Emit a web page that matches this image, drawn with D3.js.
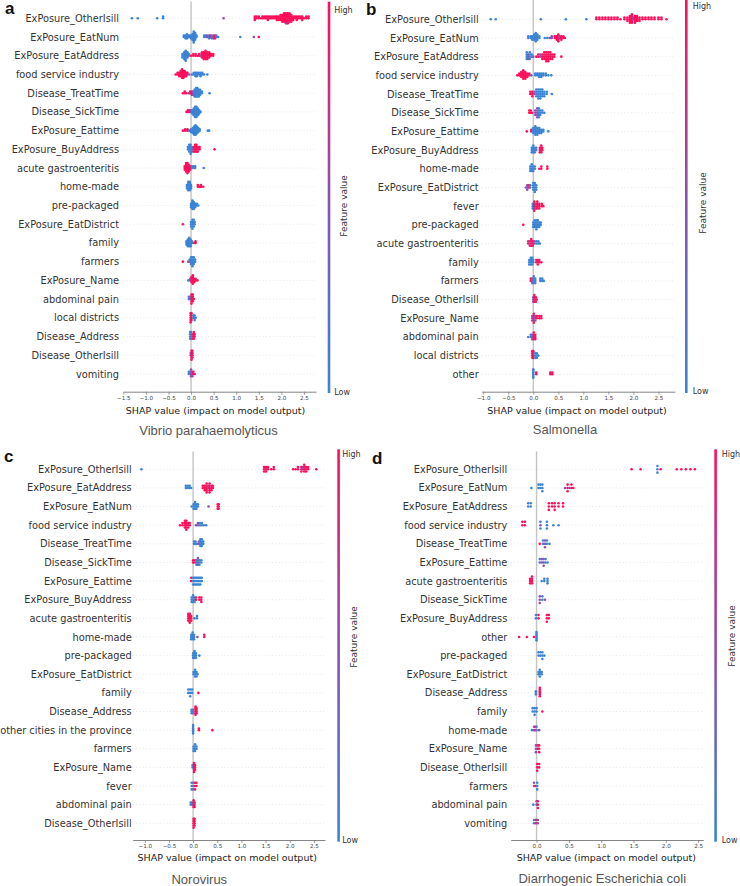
<!DOCTYPE html>
<html><head><meta charset="utf-8">
<script src="https://cdn.jsdelivr.net/npm/d3@7"></script>
<style>body{margin:0;background:#fff}svg{display:block}</style>
</head><body>
<svg id="chart" width="740" height="886"></svg>
<script>
// ---------- DATA ----------
// each row: list of [shap value, number of stacked points, feature value level (0 low / 0.5 mid / 1 high)]
const titles = ["Vibrio parahaemolyticus","Salmonella","Norovirus","Diarrhogenic Escherichia coli"];
const letters = ["a","b","c","d"];
const xLabel = "SHAP value (impact on model output)";
const colorbarLabels = ["High","Low","Feature value"];

const ticksA = [-1.5,-1.0,-0.5,0.0,0.5,1.0,1.5,2.0,2.5];
const ticksB = [-1.0,-0.5,0.0,0.5,1.0,1.5,2.0,2.5];
const ticksC = [-1.0,-0.5,0.0,0.5,1.0,1.5,2.0,2.5];
const ticksD = [0.0,0.5,1.0,1.5,2.0,2.5];

const featuresA = ["ExPosure_OtherIsill","ExPosure_EatNum","ExPosure_EatAddress","food service industry","Disease_TreatTime","Disease_SickTime","ExPosure_Eattime","ExPosure_BuyAddress","acute gastroenteritis","home-made","pre-packaged","ExPosure_EatDistrict","family","farmers","ExPosure_Name","abdominal pain","local districts","Disease_Address","Disease_OtherIsill","vomiting"];
const shapA = [
 [[-1.31,1,0],[-1.18,1,0],[-0.75,1,0],[-0.62,2,0],[0.72,1,0.5],[1.41,3,1],[1.45,2,1],[1.50,2,1],[1.54,1,1],[1.58,2,1],[1.62,2,1],[1.66,2,1],[1.70,3,1],[1.74,2,1],[1.78,2,1],[1.82,2,1],[1.86,2,1],[1.90,3,1],[1.94,3,1],[1.98,4,1],[2.02,5,1],[2.06,6,1],[2.10,6,1],[2.10,1,0.5],[2.14,7,1],[2.18,6,1],[2.22,5,1],[2.26,3,1],[2.30,2,1],[2.34,3,1],[2.38,2,1],[2.42,2,1],[2.46,3,1],[2.50,1,1],[2.55,2,1],[2.60,2,1]],
 [[-0.16,2,0],[-0.12,3,0],[-0.09,4,0],[-0.06,2,0],[-0.03,2,0],[0.0,3,0],[0.03,5,0],[0.06,9,0],[0.09,6,0],[0.12,2,0],[0.29,2,0],[0.33,2,0],[0.36,2,0.5],[0.40,3,0],[0.43,2,1],[0.46,3,0],[0.50,3,0.5],[0.53,3,1],[0.56,2,0],[0.60,1,0],[1.09,1,0],[1.39,1,0.5],[1.50,1,1]],
 [[-0.19,3,0],[-0.15,5,0],[-0.12,7,0],[-0.08,4,0],[-0.05,2,0],[0.0,1,1],[0.05,2,1],[0.10,2,1],[0.14,1,1],[0.18,2,1],[0.21,1,0.5],[0.24,4,1],[0.28,5,1],[0.32,6,1],[0.36,5,1],[0.40,4,1],[0.44,2,1],[0.49,2,1]],
 [[-0.34,1,1],[-0.30,2,1],[-0.26,3,1],[-0.23,4,1],[-0.20,6,1],[-0.17,5,1],[-0.14,4,1],[-0.11,3,1],[-0.08,2,1],[-0.04,1,0.5],[0.02,1,0],[0.06,2,0],[0.10,3,0],[0.13,3,0],[0.17,2,0],[0.21,3,0],[0.25,2,0],[0.29,1,0],[0.36,1,0]],
 [[-0.18,1,1],[-0.14,2,1],[-0.10,1,1],[-0.05,1,0.5],[-0.02,2,1],[0.02,3,1],[0.05,3,0.5],[0.08,5,0],[0.11,6,0],[0.14,6,0],[0.17,5,0],[0.20,4,0],[0.24,2,0],[0.41,1,0]],
 [[-0.10,1,1],[-0.07,2,1],[-0.03,2,1],[0.0,2,0.5],[0.03,3,0],[0.06,5,0],[0.09,7,0],[0.12,7,0],[0.15,5,0],[0.18,3,0],[0.21,1,0]],
 [[-0.18,1,1],[-0.13,2,1],[-0.08,2,1],[-0.04,1,0.5],[0.0,3,0],[0.04,5,0],[0.07,7,0],[0.10,8,0],[0.13,6,0],[0.16,4,0],[0.19,2,0],[0.37,1,0],[0.40,1,0]],
 [[-0.07,2,0],[-0.04,4,0],[-0.01,5,0],[0.02,3,0],[0.06,3,1],[0.09,4,1],[0.12,4,1],[0.15,3,1],[0.19,2,1],[0.52,1,1]],
 [[-0.14,3,1],[-0.11,6,1],[-0.08,7,1],[-0.05,5,1],[-0.02,3,1],[0.02,2,0],[0.05,2,0],[0.09,2,0],[0.28,1,0]],
 [[-0.09,3,0],[-0.06,6,0],[-0.03,6,0],[0.0,3,0],[0.15,2,1],[0.19,1,1],[0.22,2,1],[0.27,1,1]],
 [[0.0,3,0],[0.03,6,0],[0.06,5,0],[0.09,3,0],[0.13,2,0],[0.16,1,0]],
 [[-0.18,1,1],[0.0,3,0],[0.03,5,0],[0.06,4,0],[0.08,2,0]],
 [[-0.10,3,0],[-0.07,5,0],[-0.04,6,0],[-0.01,5,0],[0.02,2,0],[0.07,1,1],[0.10,2,1]],
 [[-0.18,1,1],[-0.06,1,1],[-0.03,2,0],[0.0,4,0],[0.03,5,0],[0.06,4,0],[0.09,2,0]],
 [[-0.06,1,0],[-0.02,2,0],[0.01,4,1],[0.03,2,0.5],[0.04,6,1],[0.07,3,1],[0.10,2,1],[0.14,1,1]],
 [[-0.05,2,0],[-0.02,2,0],[0.01,5,1],[0.04,4,1],[0.06,1,1]],
 [[-0.01,5,1],[0.01,4,1],[0.05,2,0],[0.08,3,0],[0.10,1,0]],
 [[-0.02,4,0],[0.0,4,0],[0.04,3,1],[0.06,4,1],[0.08,2,1]],
 [[-0.01,2,0],[0.01,5,1],[0.03,4,1]],
 [[-0.05,2,0],[-0.02,2,0],[0.0,4,0.5],[0.03,3,0.5],[0.05,2,1],[0.08,1,1]]
];

const featuresB = ["ExPosure_OtherIsill","ExPosure_EatNum","ExPosure_EatAddress","food service industry","Disease_TreatTime","Disease_SickTime","ExPosure_Eattime","ExPosure_BuyAddress","home-made","ExPosure_EatDistrict","fever","pre-packaged","acute gastroenteritis","family","farmers","Disease_OtherIsill","ExPosure_Name","abdominal pain","local districts","other"];
const shapB = [
 [[-0.85,1,0],[-0.75,1,0],[0.15,1,0],[0.65,1,0],[1.06,1,0],[1.26,2,1],[1.32,2,1],[1.38,2,1],[1.44,2,1],[1.50,2,1],[1.56,2,1],[1.62,2,1],[1.68,2,1],[1.74,1,1],[1.82,2,1],[1.88,3,1],[1.93,5,1],[1.97,6,1],[2.0,2,0.5],[2.03,5,1],[2.07,4,1],[2.12,3,1],[2.18,2,1],[2.24,2,1],[2.30,2,1],[2.36,2,1],[2.42,2,1],[2.50,2,1],[2.56,2,1],[2.66,1,1]],
 [[-0.10,2,0],[-0.05,2,0],[-0.02,3,0],[0.02,4,0],[0.05,6,0],[0.08,4,0],[0.12,2,0],[0.23,1,0],[0.28,1,0],[0.33,1,0.5],[0.37,2,0.5],[0.43,2,1],[0.47,3,1],[0.50,5,1],[0.53,2,0.5],[0.56,3,1],[0.60,2,1],[0.63,1,1]],
 [[-0.13,4,0],[-0.10,3,0.5],[-0.07,4,0],[-0.03,2,0],[0.0,1,0.5],[0.06,1,1],[0.10,2,1],[0.14,2,0.5],[0.18,3,1],[0.22,4,1],[0.26,5,1],[0.30,5,1],[0.34,4,1],[0.38,3,1],[0.42,2,1],[0.56,1,1]],
 [[-0.32,1,1],[-0.28,2,1],[-0.24,4,1],[-0.20,6,1],[-0.16,5,1],[-0.12,3,1],[-0.08,2,1],[-0.04,1,0.5],[0.04,2,0],[0.08,2,0],[0.12,3,0],[0.16,3,0],[0.20,2,0],[0.25,2,0],[0.30,1,0],[0.36,1,0]],
 [[-0.06,2,1],[-0.02,3,1],[0.02,2,0.5],[0.06,4,0],[0.10,5,0],[0.14,5,0],[0.18,4,0],[0.22,3,0],[0.27,2,0],[0.37,1,0]],
 [[-0.08,2,1],[-0.05,2,1],[-0.02,1,1],[0.04,3,0.5],[0.08,5,0.5],[0.11,5,0],[0.14,3,0],[0.18,2,0],[0.22,1,0]],
 [[-0.13,1,1],[-0.04,2,1],[0.0,4,0],[0.04,6,0],[0.08,5,0],[0.12,4,0],[0.16,3,0],[0.20,2,0],[0.30,1,0]],
 [[-0.03,3,0],[0.0,4,0],[0.03,3,0],[0.06,2,0],[0.13,3,1],[0.16,4,1],[0.18,2,1]],
 [[-0.06,3,0],[-0.03,4,0],[0.0,3,0],[0.03,2,0],[0.12,1,1],[0.16,2,1],[0.28,2,1]],
 [[-0.15,1,0],[-0.12,3,0.5],[-0.09,2,1],[-0.06,2,0],[0.0,4,0],[0.03,5,0],[0.06,3,0]],
 [[-0.01,3,0],[0.02,5,1],[0.05,3,0.5],[0.08,4,1],[0.12,3,1],[0.17,2,1],[0.20,1,1]],
 [[-0.20,1,1],[0.0,3,0],[0.03,4,0],[0.06,5,0],[0.09,4,0],[0.12,3,0],[0.15,2,0]],
 [[-0.10,2,1],[-0.07,3,0.5],[-0.04,4,1],[-0.01,3,1],[0.02,2,0.5],[0.06,2,0],[0.10,2,0],[0.13,1,0]],
 [[-0.08,3,0],[-0.05,4,0],[-0.02,4,0],[0.0,2,0],[0.06,2,1],[0.09,3,1],[0.12,2,1],[0.16,1,1]],
 [[-0.05,2,1],[-0.02,3,0.5],[0.01,4,0],[0.04,3,0],[0.14,2,0],[0.18,2,0],[0.21,1,0]],
 [[0.0,3,0.5],[0.02,4,1],[0.05,3,1],[0.07,1,1]],
 [[-0.02,3,0.5],[0.01,5,1],[0.04,3,0.5],[0.07,2,1],[0.12,2,1],[0.16,2,1]],
 [[-0.10,1,0],[-0.05,2,0],[-0.02,3,0.5],[0.01,4,1],[0.04,3,1]],
 [[-0.02,4,1],[0.0,4,1],[0.04,3,0],[0.07,3,0],[0.10,1,0]],
 [[0.0,6,0],[0.06,2,1],[0.34,2,1],[0.38,2,1]]
];

const featuresC = ["ExPosure_OtherIsill","ExPosure_EatAddress","ExPosure_EatNum","food service industry","Disease_TreatTime","Disease_SickTime","ExPosure_Eattime","ExPosure_BuyAddress","acute gastroenteritis","home-made","pre-packaged","ExPosure_EatDistrict","family","Disease_Address","other cities in the province","farmers","ExPosure_Name","fever","abdominal pain","Disease_OtherIsill"];
const shapC = [
 [[-1.07,1,0],[1.47,3,1],[1.51,3,1],[1.55,2,1],[1.62,1,1],[1.67,2,1],[2.07,1,1],[2.12,1,1],[2.17,2,1],[2.24,3,1],[2.27,2,0.5],[2.30,4,1],[2.34,3,1],[2.38,2,1],[2.55,1,1]],
 [[-0.15,2,0],[-0.11,2,0],[-0.07,2,0],[-0.04,1,0],[0.20,2,1],[0.24,3,1],[0.28,5,1],[0.31,2,0.5],[0.34,5,1],[0.38,3,1],[0.41,2,1]],
 [[-0.03,1,0],[0.01,3,0],[0.04,4,0],[0.07,3,0],[0.10,2,0],[0.32,1,0.5],[0.51,3,1],[0.53,3,1]],
 [[-0.27,1,1],[-0.22,2,1],[-0.17,4,1],[-0.14,5,1],[-0.10,3,1],[-0.07,2,1],[0.06,1,0.5],[0.10,2,0.5],[0.14,2,0],[0.18,2,0],[0.22,1,0],[0.27,1,0]],
 [[0.02,2,0],[0.05,2,0],[0.08,1,0],[0.12,2,0.5],[0.15,4,0],[0.18,4,0],[0.21,2,0]],
 [[0.0,2,1],[0.04,2,1],[0.07,3,0],[0.10,4,0.5],[0.13,3,0],[0.17,2,0]],
 [[-0.04,2,1],[0.0,3,0],[0.03,3,0],[0.06,3,0],[0.09,3,0],[0.12,3,0],[0.15,3,0],[0.18,2,0]],
 [[-0.03,3,0],[0.0,4,0],[0.03,3,0],[0.06,2,1],[0.13,2,1],[0.17,3,1]],
 [[-0.10,4,1],[-0.07,5,1],[-0.04,3,1],[0.03,1,0],[0.08,2,0]],
 [[-0.04,3,0],[-0.01,4,0],[0.02,3,0],[0.09,1,0.5],[0.23,2,1]],
 [[0.0,3,0],[0.03,4,0],[0.06,3,0],[0.13,1,0]],
 [[0.01,2,0],[0.04,4,0],[0.07,3,0],[0.09,1,0]],
 [[-0.10,2,0],[-0.06,3,0],[-0.02,2,0],[0.11,1,1]],
 [[-0.03,3,0],[0.0,3,0],[0.05,6,1],[0.07,4,1]],
 [[0.0,6,0],[0.12,2,1],[0.40,1,1]],
 [[0.01,3,0],[0.04,4,0],[0.07,2,0]],
 [[-0.01,2,0],[0.02,5,1],[0.04,3,1]],
 [[-0.03,3,0],[0.0,3,0],[0.04,3,1],[0.07,2,1]],
 [[-0.05,2,0],[-0.02,2,0],[0.01,4,1],[0.03,3,1]],
 [[0.01,5,1],[0.03,4,1]]
];

const featuresD = ["ExPosure_OtherIsill","ExPosure_EatNum","ExPosure_EatAddress","food service industry","Disease_TreatTime","ExPosure_Eattime","acute gastroenteritis","Disease_SickTime","ExPosure_BuyAddress","other","pre-packaged","ExPosure_EatDistrict","Disease_Address","family","home-made","ExPosure_Name","Disease_OtherIsill","farmers","abdominal pain","vomiting"];
const shapD = [
 [[1.47,1,1],[1.61,1,1],[1.87,3,0],[1.92,1,1],[2.17,1,1],[2.24,1,1],[2.31,1,1],[2.38,1,1],[2.45,1,1]],
 [[-0.08,1,0],[0.03,2,0],[0.06,2,0],[0.09,3,0],[0.44,1,0.5],[0.48,3,1],[0.51,1,0.5],[0.54,2,1],[0.57,1,1]],
 [[-0.13,2,0],[-0.09,2,0],[0.19,3,1],[0.24,2,1],[0.28,3,1],[0.34,2,1],[0.41,2,1]],
 [[-0.22,2,1],[-0.18,2,1],[0.06,1,0.5],[0.06,2,0],[0.16,3,0],[0.26,1,0],[0.34,1,0]],
 [[0.05,1,1],[0.10,2,0],[0.13,3,0.5],[0.16,2,0],[0.20,1,0]],
 [[0.05,2,0],[0.08,2,0.5],[0.11,3,0.5],[0.14,2,0],[0.17,1,0]],
 [[-0.10,3,1],[-0.07,4,1],[0.08,1,0],[0.12,2,0],[0.17,3,0]],
 [[0.05,3,0.5],[0.09,2,0],[0.13,1,0.5]],
 [[-0.01,2,0],[0.03,2,1],[0.16,3,1],[0.19,2,1]],
 [[-0.27,1,1],[-0.15,1,1],[-0.04,1,1],[0.0,6,0]],
 [[0.03,2,0],[0.06,2,0],[0.09,3,0],[0.12,1,0]],
 [[0.03,2,0],[0.05,4,0],[0.08,2,0]],
 [[-0.01,3,0],[0.05,6,1]],
 [[-0.06,2,0],[-0.03,3,0],[0.0,2,0],[0.09,1,1]],
 [[-0.07,1,0],[-0.04,2,0],[-0.02,2,1],[0.0,2,0],[0.04,1,0.5]],
 [[-0.01,3,0.5],[0.02,2,1],[0.04,3,1]],
 [[0.01,3,1],[0.04,2,1]],
 [[-0.04,2,0.5],[-0.02,1,1],[0.01,3,0]],
 [[-0.05,1,0],[0.0,2,0.5],[0.02,3,1]],
 [[-0.04,2,0],[-0.01,2,1],[0.02,2,0.5]]
];

// ---------- LAYOUT ----------
const layouts = [
 {xDom:[-1.5,2.766], xRange:[123.3,316], rowTop:18.3, rowBot:374, axisY:391.7, zeroTop:1.5, labelX:119, letterX:5, letterY:13.5, cbX:327.7, cbTop:1.7, cbBot:393, textX:334.3, highY:13, lowY:395, fvX:344, fvY:206, xlabX:215.5, xlabY:414, titleX:208.5, titleY:435},
 {xDom:[-1.03,2.83], xRange:[481.7,675], rowTop:19.3, rowBot:374.3, axisY:391.7, zeroTop:0, labelX:478.7, letterX:366, letterY:14.5, cbX:685, cbTop:0, cbBot:393, textX:692.7, highY:8.5, lowY:394, fvX:702.5, fvY:203, xlabX:577, xlabY:414, titleX:565, titleY:434},
 {xDom:[-1.25,2.73], xRange:[132.7,325], rowTop:469.3, rowBot:823.3, axisY:840, zeroTop:451.5, labelX:131.7, letterX:4, letterY:462, cbX:337.3, cbTop:449.3, cbBot:841.7, textX:342.3, highY:457.3, lowY:842.7, fvX:354, fvY:637, xlabX:227.2, xlabY:861, titleX:199.3, titleY:883.5},
 {xDom:[-0.40,2.58], xRange:[510.7,703.3], rowTop:469.3, rowBot:823.3, axisY:840, zeroTop:451.5, labelX:507.3, letterX:372, letterY:463.5, cbX:714.3, cbTop:449.3, cbBot:841.7, textX:721.7, highY:457.3, lowY:842.7, fvX:732, fvY:636, xlabX:606.3, xlabY:861, titleX:602.3, titleY:883}
];
const panelData = [
 {feat:featuresA, shap:shapA, ticks:ticksA},
 {feat:featuresB, shap:shapB, ticks:ticksB},
 {feat:featuresC, shap:shapC, ticks:ticksC},
 {feat:featuresD, shap:shapD, ticks:ticksD}
];

const BLUE = "#3a84d6", PURPLE = "#8c50b2", RED = "#ff0f5a";
const color = d3.scaleLinear().domain([0,0.5,1]).range([BLUE,PURPLE,RED]);
const svg = d3.select("#chart");
const defs = svg.append("defs");
const grad = defs.append("linearGradient").attr("id","cbgrad").attr("x1",0).attr("y1",1).attr("x2",0).attr("y2",0);
[0,0.5,1].forEach(t => grad.append("stop").attr("offset", t).attr("stop-color", color(t)));

const FONT = "DejaVu Sans, sans-serif";

panelData.forEach((pd, pi) => {
  const L = layouts[pi];
  const g = svg.append("g");
  const x = d3.scaleLinear().domain(L.xDom).range(L.xRange);
  const y = d3.scaleLinear().domain([0, pd.feat.length - 1]).range([L.rowTop, L.rowBot]);
  const spacing = (L.rowBot - L.rowTop) / (pd.feat.length - 1);

  // dotted row guides
  g.selectAll("line.grid").data(pd.feat).join("line")
    .attr("x1", L.xRange[0]).attr("x2", L.xRange[1])
    .attr("y1", (d,i) => y(i)).attr("y2", (d,i) => y(i))
    .attr("stroke", "#cccccc").attr("stroke-width", 0.6).attr("stroke-dasharray", "0.8,2.6");

  // zero line
  g.append("line").attr("x1", x(0)).attr("x2", x(0)).attr("y1", L.zeroTop).attr("y2", L.axisY)
    .attr("stroke", "#c4c4c4").attr("stroke-width", 1.4);

  // feature labels
  g.selectAll("text.feat").data(pd.feat).join("text")
    .attr("x", L.labelX).attr("y", (d,i) => y(i)).attr("dy", "0.36em")
    .attr("text-anchor", "end").attr("font-family", FONT).attr("font-size", 9.8)
    .attr("fill", "#333").text(d => d);

  // beeswarm points
  pd.shap.forEach((row, ri) => {
    // group by value into stacks
    const stacks = d3.group(row.flatMap(e => d3.range(e[1]).map(() => ({v:e[0], c:e[2]}))), d => d.v);
    let maxYs = 0;
    const pts = [];
    for (const [v, arr] of stacks) {
      arr.forEach((p, layer) => {
        const ys = Math.ceil(layer / 2) * ((layer % 2) * 2 - 1);
        maxYs = Math.max(maxYs, ys);
        pts.push({v: p.v, c: p.c, ys});
      });
    }
    const scale = 0.9 * 0.4 / (maxYs + 1);
    g.selectAll(null).data(pts).join("circle")
      .attr("cx", d => x(d.v))
      .attr("cy", d => y(ri) - d.ys * scale * spacing)
      .attr("r", 1.3)
      .attr("fill", d => color(d.c));
  });

  // x axis
  const axis = d3.axisBottom(x).tickValues(pd.ticks).tickFormat(d3.format(".1f"))
    .tickSize(3).tickSizeOuter(0).tickPadding(1);
  const ag = g.append("g").attr("transform", `translate(0,${L.axisY})`).call(axis);
  ag.select(".domain").attr("stroke", "#777").attr("stroke-width", 0.9);
  ag.selectAll(".tick line").attr("stroke", "#777").attr("stroke-width", 0.7);
  ag.selectAll(".tick text").attr("font-family", FONT).attr("font-size", 5.6).attr("fill", "#444");

  // x label
  g.append("text").attr("x", L.xlabX).attr("y", L.xlabY).attr("text-anchor", "middle")
    .attr("font-family", FONT).attr("font-size", 9.5).attr("fill", "#222").text(xLabel);

  // colorbar
  g.append("rect").attr("x", L.cbX).attr("y", L.cbTop).attr("width", 2.6)
    .attr("height", L.cbBot - L.cbTop).attr("fill", "url(#cbgrad)");
  g.append("text").attr("x", L.textX).attr("y", L.highY).attr("font-family", FONT)
    .attr("font-size", 8).attr("fill", "#333").text(colorbarLabels[0]);
  g.append("text").attr("x", L.textX).attr("y", L.lowY).attr("font-family", FONT)
    .attr("font-size", 8).attr("fill", "#333").text(colorbarLabels[1]);
  g.append("text").attr("transform", `translate(${L.fvX},${L.fvY}) rotate(-90)`)
    .attr("text-anchor", "middle").attr("dy", "0.35em").attr("font-family", FONT)
    .attr("font-size", 9).attr("fill", "#333").text(colorbarLabels[2]);

  // panel letter
  g.append("text").attr("x", L.letterX).attr("y", L.letterY)
    .attr("font-family", "Liberation Sans, Arial, sans-serif").attr("font-weight", "bold")
    .attr("font-size", 17).attr("fill", "#111").text(letters[pi]);

  // title
  g.append("text").attr("x", L.titleX).attr("y", L.titleY).attr("text-anchor", "middle")
    .attr("font-family", "Liberation Sans, Arial, sans-serif").attr("font-size", 13)
    .attr("fill", "#555").text(titles[pi]);
});
</script>
</body></html>
